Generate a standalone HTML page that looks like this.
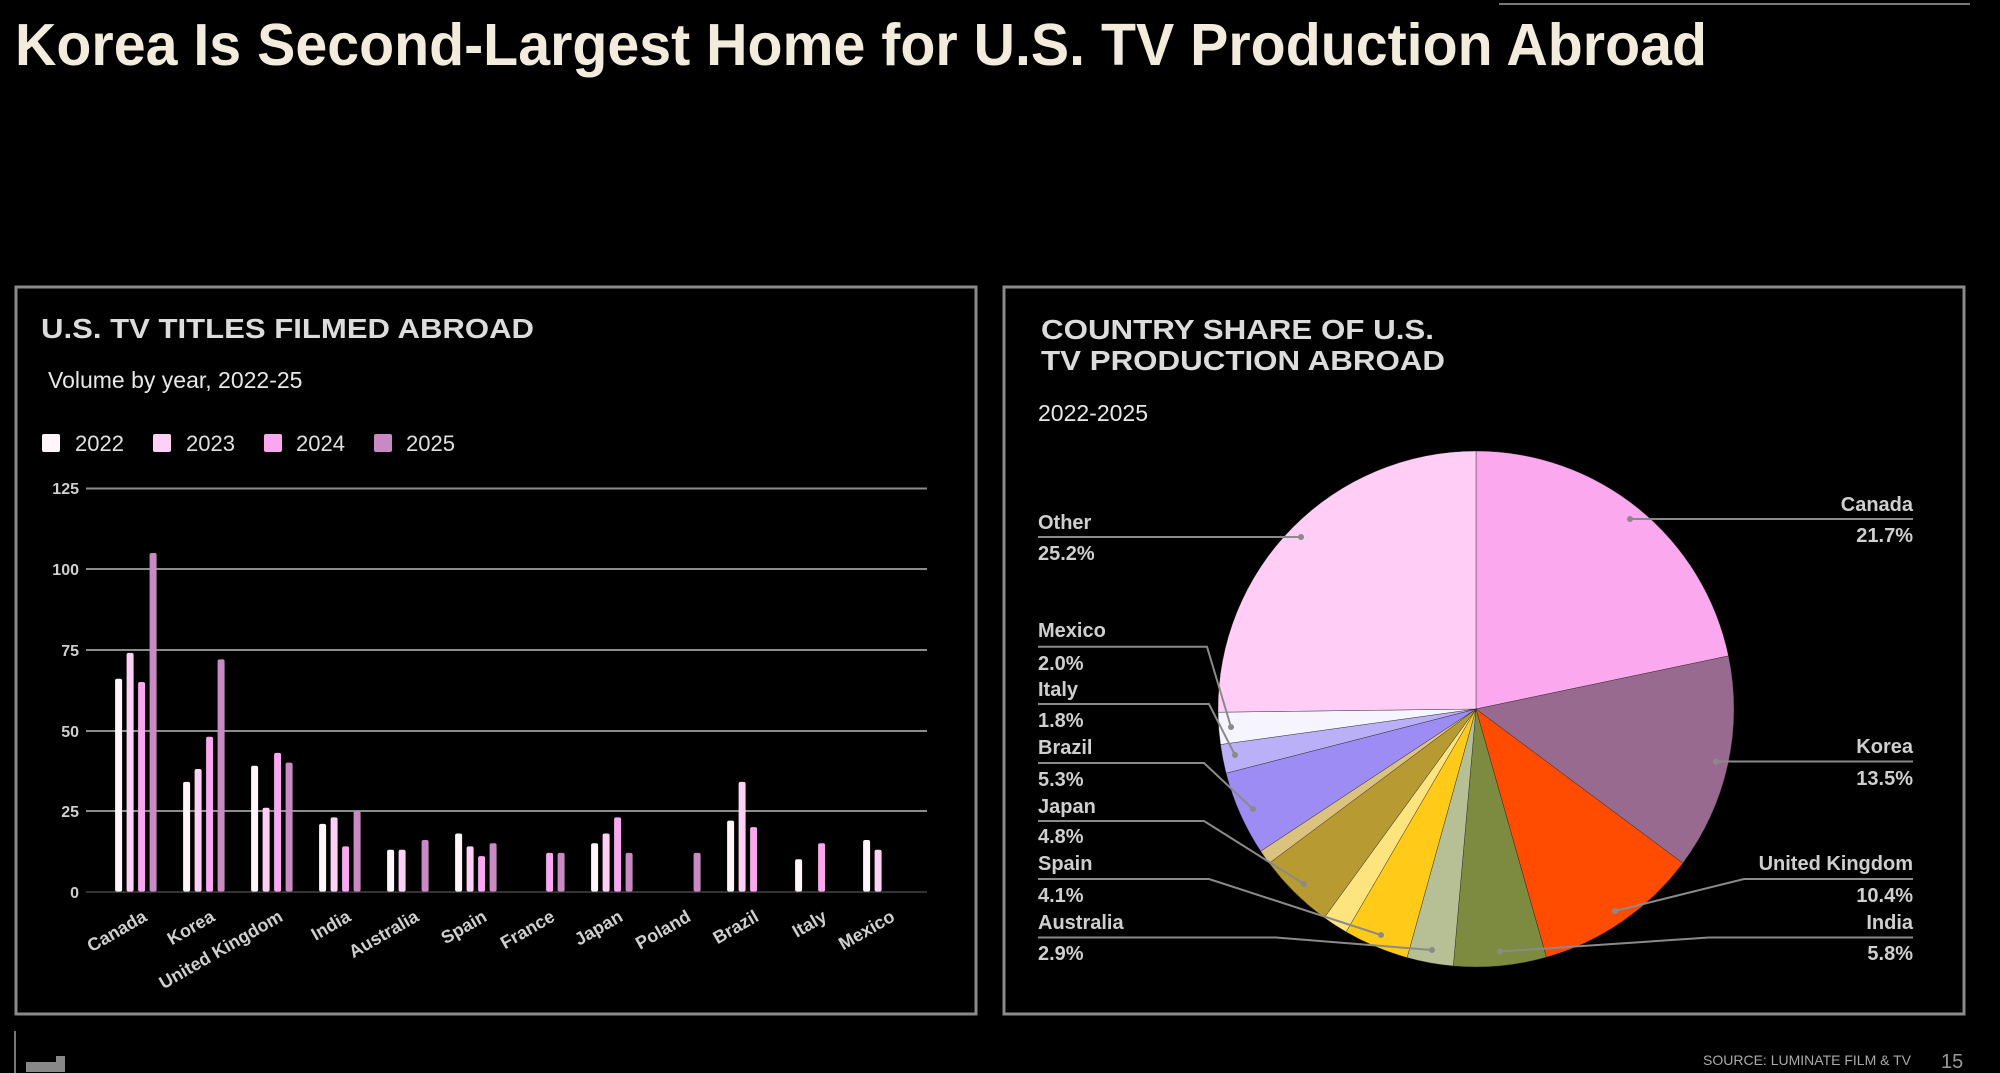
<!DOCTYPE html>
<html><head><meta charset="utf-8"><style>
html,body{margin:0;padding:0;background:#000;}
svg{display:block;}
text{font-family:"Liberation Sans",Arial,sans-serif;}
</style></head><body>
<svg width="2000" height="1073" viewBox="0 0 2000 1073" xmlns="http://www.w3.org/2000/svg">
<rect width="2000" height="1073" fill="#000"/>
<line x1="1499" y1="4" x2="1970" y2="4" stroke="#777" stroke-width="2"/>
<text x="15" y="65" font-size="59" font-weight="bold" fill="#f3ecdc" textLength="1692" lengthAdjust="spacingAndGlyphs">Korea Is Second-Largest Home for U.S. TV Production Abroad</text>

<rect x="16" y="287" width="960" height="727" fill="none" stroke="#8a8a8a" stroke-width="3"/>
<rect x="1004" y="287" width="960" height="727" fill="none" stroke="#8a8a8a" stroke-width="3"/>

<text x="41" y="338" font-size="28" font-weight="bold" fill="#dcdcdc" textLength="493" lengthAdjust="spacingAndGlyphs">U.S. TV TITLES FILMED ABROAD</text>
<text x="48" y="388" font-size="23" fill="#e8e8e8">Volume by year, 2022-25</text>
<g font-size="22" fill="#e0e0e0">
<rect x="42" y="434" width="18" height="18" fill="#fff5fb" rx="2"/><text x="75" y="451">2022</text>
<rect x="153" y="434" width="18" height="18" fill="#ffd0f5" rx="2"/><text x="186" y="451">2023</text>
<rect x="264" y="434" width="18" height="18" fill="#f9a8f0" rx="2"/><text x="296" y="451">2024</text>
<rect x="374" y="434" width="18" height="18" fill="#c989c2" rx="2"/><text x="406" y="451">2025</text>
</g>
<g stroke="#8c8c8c" stroke-width="2">
<line x1="86" y1="488.5" x2="927" y2="488.5"/>
<line x1="86" y1="569" x2="927" y2="569"/>
<line x1="86" y1="650" x2="927" y2="650"/>
<line x1="86" y1="731" x2="927" y2="731"/>
<line x1="86" y1="811" x2="927" y2="811"/>
<line x1="86" y1="892" x2="927" y2="892" stroke="#333"/>
</g>
<g font-size="16" font-weight="bold" fill="#d0d0d0" text-anchor="end">
<text x="79" y="494">125</text><text x="79" y="575">100</text><text x="79" y="656">75</text>
<text x="79" y="737">50</text><text x="79" y="817">25</text><text x="79" y="898">0</text>
</g>
<g>
<g fill="#fff5fb">
<rect x="115.1" y="678.7" width="7" height="212.9" rx="2"/>
<rect x="183.1" y="781.9" width="7" height="109.7" rx="2"/>
<rect x="251.1" y="765.8" width="7" height="125.8" rx="2"/>
<rect x="319.1" y="823.9" width="7" height="67.7" rx="2"/>
<rect x="387.1" y="849.7" width="7" height="41.9" rx="2"/>
<rect x="455.1" y="833.5" width="7" height="58.1" rx="2"/>
<rect x="591.1" y="843.2" width="7" height="48.4" rx="2"/>
<rect x="727.1" y="820.6" width="7" height="71" rx="2"/>
<rect x="795.1" y="859.3" width="7" height="32.3" rx="2"/>
<rect x="863.1" y="840" width="7" height="51.6" rx="2"/>
</g>
<g fill="#ffd0f5">
<rect x="126.6" y="652.9" width="7" height="238.7" rx="2"/>
<rect x="194.6" y="769" width="7" height="122.6" rx="2"/>
<rect x="262.6" y="807.7" width="7" height="83.9" rx="2"/>
<rect x="330.6" y="817.4" width="7" height="74.2" rx="2"/>
<rect x="398.6" y="849.7" width="7" height="41.9" rx="2"/>
<rect x="466.6" y="846.4" width="7" height="45.2" rx="2"/>
<rect x="602.6" y="833.5" width="7" height="58.1" rx="2"/>
<rect x="738.6" y="781.9" width="7" height="109.7" rx="2"/>
<rect x="874.6" y="849.7" width="7" height="41.9" rx="2"/>
</g>
<g fill="#f9a8f0">
<rect x="138.1" y="682" width="7" height="209.6" rx="2"/>
<rect x="206.1" y="736.8" width="7" height="154.8" rx="2"/>
<rect x="274.1" y="752.9" width="7" height="138.7" rx="2"/>
<rect x="342.1" y="846.4" width="7" height="45.2" rx="2"/>
<rect x="478.1" y="856.1" width="7" height="35.5" rx="2"/>
<rect x="546.1" y="852.9" width="7" height="38.7" rx="2"/>
<rect x="614.1" y="817.4" width="7" height="74.2" rx="2"/>
<rect x="750.1" y="827.1" width="7" height="64.5" rx="2"/>
<rect x="818.1" y="843.2" width="7" height="48.4" rx="2"/>
</g>
<g fill="#c989c2">
<rect x="149.6" y="553" width="7" height="338.6" rx="2"/>
<rect x="217.6" y="659.4" width="7" height="232.2" rx="2"/>
<rect x="285.6" y="762.6" width="7" height="129" rx="2"/>
<rect x="353.6" y="811" width="7" height="80.6" rx="2"/>
<rect x="421.6" y="840" width="7" height="51.6" rx="2"/>
<rect x="489.6" y="843.2" width="7" height="48.4" rx="2"/>
<rect x="557.6" y="852.9" width="7" height="38.7" rx="2"/>
<rect x="625.6" y="852.9" width="7" height="38.7" rx="2"/>
<rect x="693.6" y="852.9" width="7" height="38.7" rx="2"/>
</g>
</g>
<g font-size="18" font-weight="bold" fill="#cfcfcf" text-anchor="end">
<text transform="translate(148,920) rotate(-30)">Canada</text>
<text transform="translate(216,920) rotate(-30)">Korea</text>
<text transform="translate(284,920) rotate(-30)">United Kingdom</text>
<text transform="translate(352,920) rotate(-30)">India</text>
<text transform="translate(420,920) rotate(-30)">Australia</text>
<text transform="translate(488,920) rotate(-30)">Spain</text>
<text transform="translate(556,920) rotate(-30)">France</text>
<text transform="translate(624,920) rotate(-30)">Japan</text>
<text transform="translate(692,920) rotate(-30)">Poland</text>
<text transform="translate(760,920) rotate(-30)">Brazil</text>
<text transform="translate(828,920) rotate(-30)">Italy</text>
<text transform="translate(896,920) rotate(-30)">Mexico</text>
</g>

<g font-size="28" font-weight="bold" fill="#dcdcdc">
<text x="1041" y="339" textLength="393" lengthAdjust="spacingAndGlyphs">COUNTRY SHARE OF U.S.</text>
<text x="1041" y="370" textLength="404" lengthAdjust="spacingAndGlyphs">TV PRODUCTION ABROAD</text>
</g>
<text x="1038" y="421" font-size="23" fill="#e8e8e8">2022-2025</text>

<g stroke="#222" stroke-width="0.4">
<path d="M1476,709 L1476,451 A258,258 0 0 1 1728.5,655.9 Z" fill="#fba8ef"/>
<path d="M1476,709 L1728.5,655.9 A258,258 0 0 1 1682.8,863.2 Z" fill="#996a8f"/>
<path d="M1476,709 L1682.8,863.2 A258,258 0 0 1 1546.4,957.2 Z" fill="#ff4c00"/>
<path d="M1476,709 L1546.4,957.2 A258,258 0 0 1 1453.3,966 Z" fill="#7d8b40"/>
<path d="M1476,709 L1453.3,966 A258,258 0 0 1 1407.1,957.6 Z" fill="#b7c095"/>
<path d="M1476,709 L1407.1,957.6 A258,258 0 0 1 1346.1,931.9 Z" fill="#ffca18"/>
<path d="M1476,709 L1346.1,931.9 A258,258 0 0 1 1324.3,917.7 Z" fill="#fde47f"/>
<path d="M1476,709 L1324.3,917.7 A258,258 0 0 1 1269.2,863.2 Z" fill="#b89a32"/>
<path d="M1476,709 L1269.2,863.2 A258,258 0 0 1 1260.7,851.2 Z" fill="#dcc27f"/>
<path d="M1476,709 L1260.7,851.2 A258,258 0 0 1 1226.1,773.2 Z" fill="#9d8cf3"/>
<path d="M1476,709 L1226.1,773.2 A258,258 0 0 1 1220.5,744.5 Z" fill="#b9b0f7"/>
<path d="M1476,709 L1220.5,744.5 A258,258 0 0 1 1218,712.2 Z" fill="#f6f4ff"/>
<path d="M1476,709 L1218,712.2 A258,258 0 0 1 1476,451 Z" fill="#ffcdf6"/>
</g>

<g stroke="#8a8a8a" stroke-width="2" fill="none">
<polyline points="1913,519 1630,519"/>
<polyline points="1913,761.5 1716,761.5"/>
<polyline points="1913,879 1744,879 1615,911"/>
<polyline points="1913,937.5 1709,937.5 1500,951.5"/>
<polyline points="1038,537 1301,537"/>
<polyline points="1038,646.7 1207,646.7 1231,727"/>
<polyline points="1038,704 1209,704 1235,755"/>
<polyline points="1038,763 1204,763 1253,809"/>
<polyline points="1038,821 1204,821 1304,884"/>
<polyline points="1038,879 1209,879 1381,935"/>
<polyline points="1038,937.5 1276,937.5 1432,950"/>
</g>
<g fill="#8a8a8a">
<circle cx="1630" cy="519" r="3"/><circle cx="1716" cy="761.5" r="3"/><circle cx="1615" cy="911" r="3"/>
<circle cx="1500" cy="951.5" r="3"/><circle cx="1301" cy="537" r="3"/><circle cx="1231" cy="727" r="3"/>
<circle cx="1235" cy="755" r="3"/><circle cx="1253" cy="809" r="3"/><circle cx="1304" cy="884" r="3"/>
<circle cx="1381" cy="935" r="3"/><circle cx="1432" cy="950" r="3"/>
</g>
<g font-size="20" font-weight="bold" fill="#cfcfcf">
<g text-anchor="end">
<text x="1913" y="511">Canada</text><text x="1913" y="542">21.7%</text>
<text x="1913" y="753">Korea</text><text x="1913" y="785">13.5%</text>
<text x="1913" y="870">United Kingdom</text><text x="1913" y="902">10.4%</text>
<text x="1913" y="929">India</text><text x="1913" y="960">5.8%</text>
</g>
<text x="1038" y="529">Other</text><text x="1038" y="560">25.2%</text>
<text x="1038" y="637">Mexico</text><text x="1038" y="670">2.0%</text>
<text x="1038" y="696">Italy</text><text x="1038" y="727">1.8%</text>
<text x="1038" y="754">Brazil</text><text x="1038" y="786">5.3%</text>
<text x="1038" y="813">Japan</text><text x="1038" y="843">4.8%</text>
<text x="1038" y="870">Spain</text><text x="1038" y="902">4.1%</text>
<text x="1038" y="929">Australia</text><text x="1038" y="960">2.9%</text>
</g>

<line x1="15" y1="1031" x2="15" y2="1073" stroke="#777" stroke-width="2"/>
<path d="M26,1062 L56,1062 L56,1056 L65,1056 L65,1072 L26,1072 Z" fill="#888"/>
<text x="1911" y="1065" font-size="14" fill="#aaa" text-anchor="end">SOURCE: LUMINATE FILM &amp; TV</text>
<text x="1941" y="1068" font-size="20" fill="#999">15</text>
</svg>
</body></html>
